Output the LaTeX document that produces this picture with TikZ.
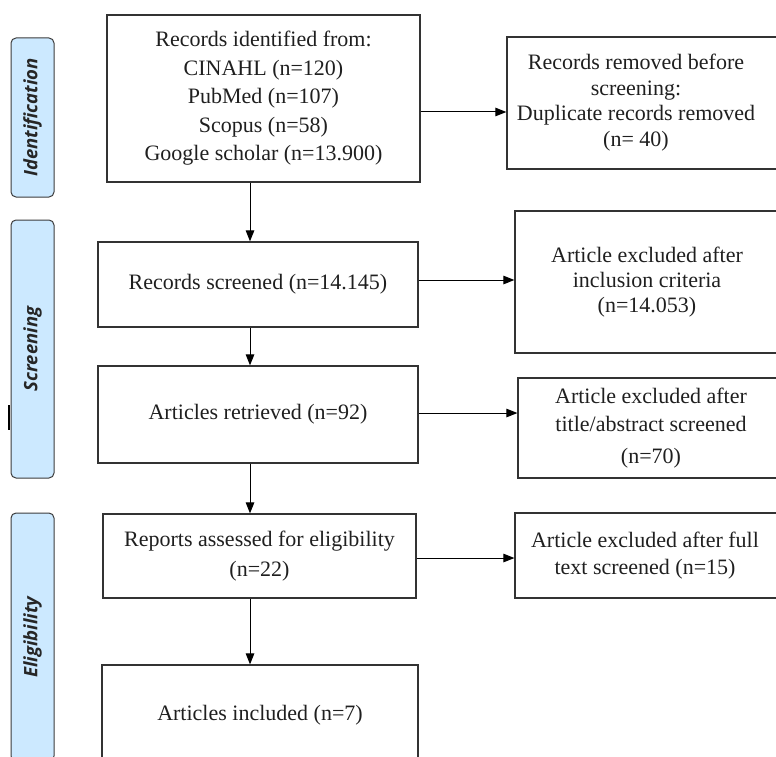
\documentclass[tikz,border=0pt]{standalone}
\usepackage{fontspec}
\setmainfont{Liberation Serif}
\newfontfamily\phasefont{Open Sans}
\usetikzlibrary{arrows.meta}
\definecolor{boxgray}{HTML}{333333}
\definecolor{phasegray}{HTML}{3C3C3C}
\definecolor{phaseblue}{HTML}{CCE9FF}
\newcommand\rtext[2]{\begin{tabular}{@{}c@{}}#2\end{tabular}\hspace*{#1}}
\begin{document}
\begin{tikzpicture}[x=1pt,y=-1pt,
  box/.style={draw=boxgray, line width=1.2pt, inner sep=0pt, align=center,
    text=black!88, font=\fontsize{22}{27}\selectfont},
  phase/.style={draw=phasegray, fill=phaseblue, line width=1pt, rounded corners=5pt,
    inner sep=0pt, rotate=90, minimum height=43pt,
    font=\phasefont\bfseries\itshape\fontsize{18.5}{20}\selectfont, text=black!85},
  arr/.style={-{Triangle[length=11pt,width=8.5pt]}, line width=1pt, draw=black}]
\useasboundingbox (0,0) rectangle (776,757);
\clip (0,0) rectangle (776,757);
% phase labels
\node[phase, minimum width=159pt] (p1) at (32.5,117.5) {Identification};
\node[phase, minimum width=258pt] (p2) at (32.5,349) {Screening};
\node[phase, minimum width=248pt] (p3) at (32.5,637) {Eligibility};
\draw[line width=1.8pt] (9,405) -- (9,430);
% left column
\node[box, minimum width=313pt, minimum height=167pt, font=\fontsize{22}{28.5}\selectfont] (b1) at (263.5,98.5)
  {Records identified from:\\CINAHL (n=120)\\PubMed (n=107)\\Scopus (n=58)\\Google scholar (n=13.900)};
\node[box, minimum width=320pt, minimum height=85pt] (b3) at (258,284.5) {Records screened (n=14.145)};
\node[box, minimum width=320pt, minimum height=97pt] (b5) at (258,414.5) {Articles retrieved (n=92)};
\node[box, minimum width=313pt, minimum height=84pt, font=\fontsize{22}{30}\selectfont] (b7) at (259.5,556) {Reports assessed for eligibility\\(n=22)};
\node[box, minimum width=316pt, minimum height=100pt] (b9) at (260,715) {Articles included (n=7)};
% right column
\node[box, minimum width=293pt, minimum height=132pt, font=\fontsize{22}{25.5}\selectfont] (b2) at (653.5,103)
  {\rtext{35pt}{Records removed before\\screening:\\Duplicate records removed\\(n= 40)}};
\node[box, minimum width=285pt, minimum height=142pt, font=\fontsize{22}{25}\selectfont] (b4) at (657.5,282)
  {\rtext{21pt}{Article excluded after\\inclusion criteria\\(n=14.053)}};
\node[box, minimum width=282pt, minimum height=100pt, font=\fontsize{22}{28}\selectfont] (b6) at (659,428)
  {\rtext{16pt}{Article excluded after\\title/abstract screened\\[4pt](n=70)}};
\node[box, minimum width=285pt, minimum height=85pt, font=\fontsize{22}{27}\selectfont] (b8) at (657.5,555.5)
  {\rtext{25pt}{Article excluded after full\\text screened (n=15)}};
% helper coordinates
\coordinate (vx) at (250,0);
\coordinate (h1) at (0,112);
\coordinate (h2) at (0,280);
\coordinate (h3) at (0,413);
\coordinate (h4) at (0,558);
% connectors
\draw[arr] (b1.south -| vx) -- (b3.north -| vx);
\draw[arr] (b3.south -| vx) -- (b5.north -| vx);
\draw[arr] (b5.south -| vx) -- (b7.north -| vx);
\draw[arr] (b7.south -| vx) -- (b9.north -| vx);
\draw[arr] (b1.east |- h1) -- (b2.west |- h1);
\draw[arr] (b3.east |- h2) -- (b4.west |- h2);
\draw[arr] (b5.east |- h3) -- (b6.west |- h3);
\draw[arr] (b7.east |- h4) -- (b8.west |- h4);
\end{tikzpicture}
\end{document}
